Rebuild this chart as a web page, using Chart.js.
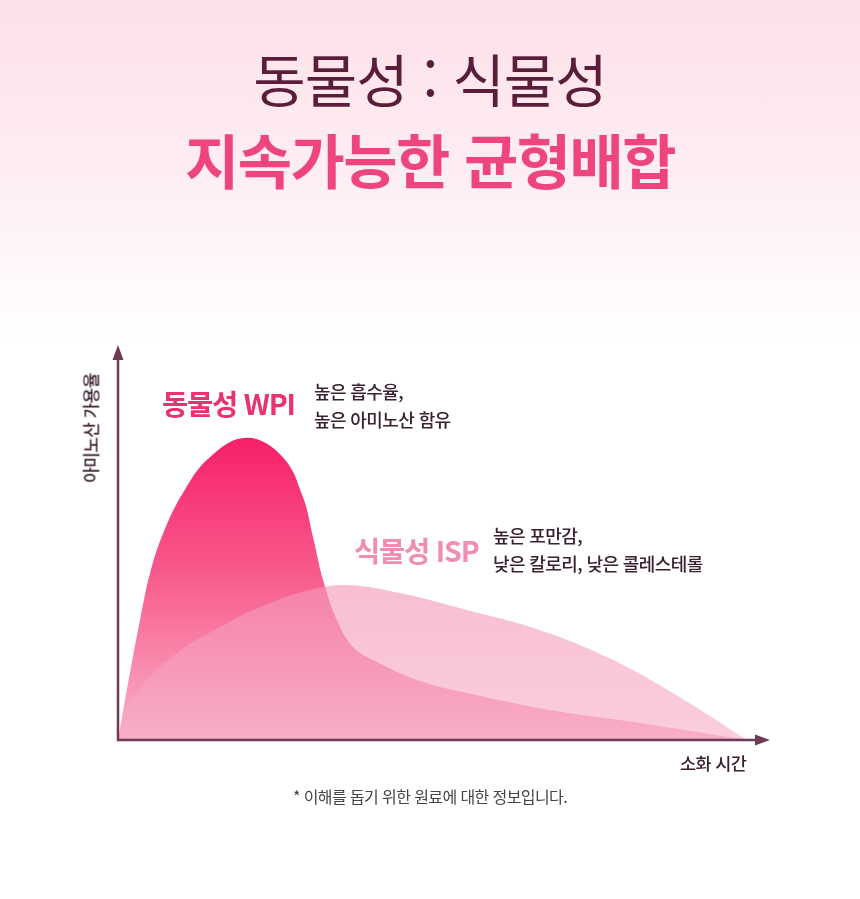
<!DOCTYPE html>
<html lang="ko">
<head>
<meta charset="utf-8">
<script src="https://cdn.jsdelivr.net/npm/chart.js@4.4.1/dist/chart.umd.min.js"></script>
<style>
  html, body { margin:0; padding:0; }
  body {
    width:860px; height:899px; overflow:hidden; position:relative;
    background: linear-gradient(to bottom, #fde0e8 0px, #fef0f4 200px, #ffffff 340px, #ffffff 899px);
    font-family: "Noto Sans CJK KR", "Noto Sans", sans-serif;
  }
  #c { position:absolute; left:0; top:0; }
  .t { position:absolute; white-space:nowrap; line-height:1; }
  #title1 { left:0; width:860px; text-align:center; top:49px; font-size:57px; font-weight:400; color:#5b1e3a; letter-spacing:-1px; }
  #title2 { left:0; width:860px; text-align:center; top:129px; font-size:59px; font-weight:700; color:#ee4580; letter-spacing:-1.5px; }
  .lab { font-weight:700; font-size:28.5px; letter-spacing:-1.2px; }
  #wpiLab { left:162px; top:389px; color:#e8336e; }
  #ispLab { left:354px; top:536px; color:#f08db3; }
  .desc { font-size:18px; font-weight:500; color:#3b2030; letter-spacing:-0.6px; line-height:28px; }
  #wpiDesc { left:314px; top:377px; }
  #ispDesc { left:493px; top:521px; }
  #xTitle { left:680px; top:754px; font-size:17.5px; font-weight:500; color:#3b2030; letter-spacing:-0.6px; }
  #yTitle { left:90px; top:428px; font-size:17px; font-weight:500; color:#3b2030; letter-spacing:-0.6px;
            transform: translate(-50%,-50%) rotate(-90deg); }
  #note { left:0; width:860px; text-align:center; top:788px; font-size:16px; color:#444; letter-spacing:-0.6px; }
</style>
</head>
<body>
<canvas id="c" width="860" height="899"></canvas>
<div class="t" id="title1">동물성 : 식물성</div>
<div class="t" id="title2">지속가능한 균형배합</div>
<div class="t lab" id="wpiLab">동물성 WPI</div>
<div class="t desc" id="wpiDesc">높은 흡수율,<br>높은 아미노산 함유</div>
<div class="t lab" id="ispLab">식물성 ISP</div>
<div class="t desc" id="ispDesc">높은 포만감,<br>낮은 칼로리, 낮은 콜레스테롤</div>
<div class="t" id="xTitle">소화 시간</div>
<div class="t" id="yTitle">아미노산 가용율</div>
<div class="t" id="note">* 이해를 돕기 위한 원료에 대한 정보입니다.</div>
<script>
// Digestion time (relative, 0-100) and amino-acid availability (relative, 0-100)
const wpiTime = [0, 1.9, 3.5, 5.1, 7.2, 10.3, 14.6, 20.5, 26.2, 29.4, 31, 32.6, 34.8, 37.4, 40.5, 47.5, 55.5, 68.7, 83, 100];
const wpiValues = [0, 17, 30.4, 42.3, 52.4, 62.5, 71.6, 76.5, 71.6, 61.5, 51.4, 40.5, 30.4, 23.5, 20.3, 15.2, 11.9, 7.6, 4.3, 0];
const ispTime = [0, 3, 9.4, 16.2, 22.6, 30.5, 36.9, 44.8, 55.5, 67.1, 77.7, 88.2, 100];
const ispValues = [0, 11.9, 22, 28.6, 33.7, 38, 39.2, 37.2, 32.9, 27.8, 21, 11.9, 0];
const seriesNames = ["동물성 WPI", "식물성 ISP"];

const toPoints = (xs, ys) => xs.map((x, i) => ({ x: x, y: ys[i] }));

function wpiFill(ctx) {
  const ca = ctx.chart.chartArea;
  if (!ca) return '#f5608f';
  const y = ctx.chart.scales.y;
  const g = ctx.chart.ctx.createLinearGradient(0, y.getPixelForValue(77), 0, ca.bottom);
  g.addColorStop(0, '#f71f68');
  g.addColorStop(0.45, '#f85a8c');
  g.addColorStop(1, '#f8b2c8');
  return g;
}
function ispFill(ctx) {
  const ca = ctx.chart.chartArea;
  if (!ca) return 'rgba(245,150,185,0.6)';
  const y = ctx.chart.scales.y;
  const g = ctx.chart.ctx.createLinearGradient(0, y.getPixelForValue(40), 0, ca.bottom);
  g.addColorStop(0, 'rgba(244,150,184,0.62)');
  g.addColorStop(1, 'rgba(248,172,199,0.6)');
  return g;
}

const axesPlugin = {
  id: 'arrowAxes',
  afterDatasetsDraw(chart) {
    const { ctx, chartArea: ca } = chart;
    const x0 = chart.scales.x.getPixelForValue(0);
    const y0 = chart.scales.y.getPixelForValue(0);
    const yTop = chart.scales.y.getPixelForValue(100);
    const xEnd = ca.right + 23;
    ctx.save();
    ctx.strokeStyle = '#6e3a55';
    ctx.fillStyle = '#6e3a55';
    ctx.lineWidth = 2.5;
    ctx.beginPath();
    ctx.moveTo(x0, yTop + 10);
    ctx.lineTo(x0, y0);
    ctx.lineTo(xEnd - 10, y0);
    ctx.stroke();
    ctx.beginPath();
    ctx.moveTo(x0, yTop);
    ctx.lineTo(x0 - 5.5, yTop + 15);
    ctx.lineTo(x0 + 5.5, yTop + 15);
    ctx.closePath();
    ctx.fill();
    ctx.beginPath();
    ctx.moveTo(xEnd, y0);
    ctx.lineTo(xEnd - 15, y0 - 5.5);
    ctx.lineTo(xEnd - 15, y0 + 5.5);
    ctx.closePath();
    ctx.fill();
    ctx.restore();
  }
};

new Chart(document.getElementById('c'), {
  type: 'line',
  data: {
    datasets: [
      {
        label: seriesNames[1],
        data: toPoints(ispTime, ispValues),
        fill: 'origin',
        backgroundColor: ispFill,
        borderWidth: 0,
        borderColor: 'rgba(0,0,0,0)',
        pointRadius: 0,
        tension: 0.4,
        order: 0
      },
      {
        label: seriesNames[0],
        data: toPoints(wpiTime, wpiValues),
        fill: 'origin',
        backgroundColor: wpiFill,
        borderWidth: 0,
        borderColor: 'rgba(0,0,0,0)',
        pointRadius: 0,
        tension: 0.4,
        order: 1
      }
    ]
  },
  options: {
    responsive: false,
    animation: false,
    devicePixelRatio: 1,
    parsing: true,
    layout: { padding: { left: 118, right: 113, top: 345, bottom: 159 } },
    scales: {
      x: { type: 'linear', min: 0, max: 100, display: false },
      y: { type: 'linear', min: 0, max: 100, display: false }
    },
    plugins: {
      legend: { display: false },
      tooltip: { enabled: false },
      title: { display: false }
    }
  },
  plugins: [axesPlugin]
});
</script>
</body>
</html>
